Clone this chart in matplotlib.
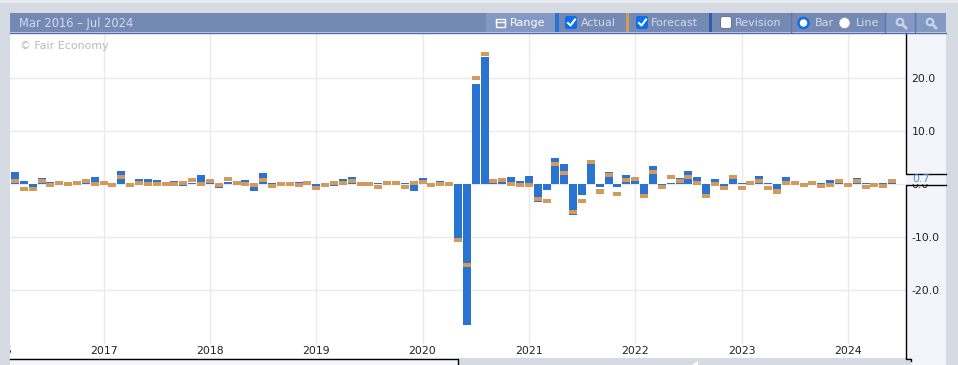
import numpy as np
import matplotlib
matplotlib.use("Agg")
import matplotlib.pyplot as plt
from matplotlib.patches import Rectangle, Circle, FancyBboxPatch, Polygon

# monthly values, Mar 2016 onward
actual = [2.2, 0.5, -0.6, 1.1, 0.3, 0.1, 0.0, 0.1, 0.4, 1.3,
          0.1, -0.1, 2.4, -0.1, 0.9, 0.9, 0.7, 0.0, 0.5, -0.4,
          0.1, 1.7, 0.4, -0.8, 0.3, 0.1, 0.7, -1.3, 2.0, 0.1,
          0.0, 0.0, 0.3, 0.1, -0.4, -0.1, -0.4, 0.9, 1.3, 0.0,
          0.0, 0.1, 0.1, 0.1, 0.1, -1.3, 1.1, -0.1, 0.5, 0.0,
          -10.3, -26.6, 18.8, 23.9, 0.3, 0.4, 1.3, 0.5, 1.5, -3.4,
          -1.2, 4.9, 3.7, -5.9, -2.1, 3.7, -0.6, 2.2, -0.6, 1.7,
          0.6, -2.1, 3.4, -0.2, 0.2, 1.1, 2.4, 1.3, -2.1, 0.9,
          -0.4, 1.0, 0.15, 0.1, 1.5, 0.15, -1.1, 1.3, 0.1, -0.1,
          0.1, 0.15, 0.7, 0.3, -0.1, 1.1, 0.15, -0.1, 0.15, 0.3]
forecast = [0.5, -1.0, -1.0, 0.5, -0.2, 0.15, 0.0, 0.15, 0.5, 0.0,
            0.15, -0.2, 1.3, -0.2, 0.15, 0.0, 0.0, 0.0, 0.0, 0.15,
            0.7, 0.0, 0.5, -0.2, 0.9, 0.15, 0.0, -0.2, 0.7, -0.4,
            0.0, 0.0, -0.2, 0.15, -0.8, -0.2, 0.15, 0.15, 0.5, 0.0,
            0.0, -0.6, 0.15, 0.15, -0.6, 0.15, 0.35, -0.2, 0.0, 0.0,
            -10.6, -15.3, 20.0, 24.5, 0.5, 0.7, 0.0, -0.2, -0.2, -2.9,
            -3.2, 3.7, 2.0, -5.3, -3.2, 4.1, -1.5, 1.7, -1.9, 0.7,
            0.9, -2.3, 2.2, -0.6, 1.3, 0.5, 1.3, 0.15, -2.3, 0.0,
            -0.8, 1.3, -0.8, 0.15, 0.5, -0.8, -1.5, 0.15, 0.15, -0.2,
            0.15, -0.4, -0.2, 0.5, -0.2, 0.5, -0.6, -0.2, -0.4, 0.5]
year_labels = ["2016", "2017", "2018", "2019", "2020", "2021", "2022", "2023", "2024"]
year_start_index = [-1.9, 10, 22, 34, 46, 58, 70, 82, 94]
y_ticks = [-20, -10, 0, 10, 20]
y_tick_labels = ["-20.0", "-10.0", "0.0", "10.0", "20.0"]
date_range = "Mar 2016 – Jul 2024"
latest_value = "0.7"

W, H = 958, 365
BLUE = "#2874d0"
ORANGE = "#d49a5c"
BAR_COL = "#7589b5"
BG = "#d5dae3"
PANEL = "#f3f5fa"
GRID = "#e9e9f2"

fig = plt.figure(figsize=(W / 100, H / 100), dpi=100, facecolor=BG)
plt.rcParams["font.family"] = "DejaVu Sans"

# backdrop in pixel coords
bg = fig.add_axes([0, 0, 1, 1], zorder=0)
bg.set_xlim(0, W)
bg.set_ylim(H, 0)
bg.axis("off")
bg.add_patch(Rectangle((0, 0), W, 3, color="#e8ebf0", lw=0))
bg.add_patch(Rectangle((906, 33), 40, 332, color=PANEL, lw=0))
bg.add_patch(Rectangle((10, 358), 448, 7, color=PANEL, lw=0))
bg.add_patch(Rectangle((458, 358), 453, 7, color=BG, lw=0))

x0, x1, y0, y1 = 10, 906, 33, 358
ax = fig.add_axes([x0 / W, 1 - y1 / H, (x1 - x0) / W, (y1 - y0) / H], zorder=1)

x = np.arange(len(actual))
bar_w = 8 / 8.86
ax.bar(x, actual, width=bar_w, color=BLUE, zorder=3)
ax.bar(x, [0.85] * len(forecast), bottom=np.array(forecast) - 0.425, width=bar_w, color=ORANGE, zorder=4)

ax.set_yticks(y_ticks)
ax.set_yticklabels(y_tick_labels, fontsize=7.8, color="#222222")
ax.yaxis.tick_right()
ax.set_xticks([])
ax.tick_params(axis="y", length=0, pad=4)
ax.grid(True, axis="y", color=GRID, lw=1)
ax.set_axisbelow(True)

# year lines stop above the labels, and 2016 is cut by the plot's left edge
for i, lab in zip(year_start_index, year_labels):
    ax.axvline(i, ymin=15 / 325, color=GRID, lw=1, zorder=1)
    ax.text(i, 7 / 325, lab, transform=ax.get_xaxis_transform(), fontsize=7.8, color="#222222",
            ha="center", va="center", clip_on=True)

unit = 5.3
ax.set_ylim((183.8 - y1) / unit, (183.8 - y0) / unit)
ax.set_xlim((x0 - 15) / 8.86, (x1 - 15) / 8.86)

for s in ax.spines.values():
    s.set_visible(False)

ax.text(20, 46, "© Fair Economy", transform=bg.transData, fontsize=7.9, color="#b9b9b9", va="center", zorder=6)

# top layer: toolbar, axis lines and latest value flag
top = fig.add_axes([0, 0, 1, 1], zorder=2)
top.set_xlim(0, W)
top.set_ylim(H, 0)
top.axis("off")
top.patch.set_alpha(0)

top.add_patch(Rectangle((906, 173.5), 40, 10.5, facecolor=PANEL, lw=0))
top.plot([906, 906, 946], [33, 173.5, 173.5], color="black", lw=1)
top.plot([946, 906, 906, 911, 911], [184.5, 184.5, 358.5, 358.5, 361], color="black", lw=1)
top.plot([10, 458.5, 458.5], [358.5, 358.5, 365], color="black", lw=1)
top.add_patch(Polygon([[692, 365], [698, 361], [698, 365]], color="white", lw=0))
top.text(912, 178.5, latest_value, fontsize=8, color="#4a90e2", va="center")

top.add_patch(Rectangle((10, 13), 936, 19, color=BAR_COL, lw=0))
top.plot([10, 946], [32.5, 32.5], color="#4b6cab", lw=1)
top.add_patch(Rectangle((486, 13), 69, 19, color="#8398c2", lw=0))
top.add_patch(Rectangle((555, 13), 4, 19, color=BLUE, lw=0))
top.add_patch(Rectangle((626, 13), 3, 19, color=ORANGE, lw=0))
top.add_patch(Rectangle((709, 13), 3, 19, color="#2f5ea8", lw=0))
top.add_patch(Rectangle((885, 13), 61, 19, color="#8398c2", lw=0))
for px in [791, 885, 915]:
    top.plot([px, px], [13, 32], color="#5e78ad", lw=1)

txt = "#d3daea"
top.text(19, 23, date_range, fontsize=8.3, color=txt, va="center")
top.text(510, 23, "Range", fontsize=8, color="white", va="center")
top.text(580.5, 23, "Actual", fontsize=8, color=txt, va="center")
top.text(651, 23, "Forecast", fontsize=8, color=txt, va="center")
top.text(734.5, 23, "Revision", fontsize=8, color=txt, va="center")
top.text(815, 23, "Bar", fontsize=8, color=txt, va="center")
top.text(856, 23, "Line", fontsize=8, color=txt, va="center")

# range calendar icon
top.add_patch(Rectangle((496, 19), 9, 8, facecolor="none", edgecolor="white", lw=1))
top.plot([496, 505], [22, 22], color="white", lw=1)

# check boxes
for bx, on in [(565, True), (636, True), (720, False)]:
    top.add_patch(FancyBboxPatch((bx + 1, 17), 10, 11, boxstyle="round,pad=0.5,rounding_size=2",
                                 facecolor="#0a6fe8" if on else "white",
                                 edgecolor="#0a6fe8" if on else "#777777", lw=0.8))
    if on:
        top.plot([bx + 3, bx + 5.5, bx + 10], [23, 25.5, 19.5], color="white", lw=1.5)

# radios
top.add_patch(Circle((803.5, 23), 5, facecolor="white", edgecolor="#0a6fe8", lw=1.8))
top.add_patch(Circle((844.5, 23), 5.5, facecolor="white", edgecolor="#999999", lw=0.6))

# zoom icons
for cx in [900, 930]:
    top.add_patch(Circle((cx, 22), 3.3, facecolor="none", edgecolor="#c9d3e8", lw=1.6))
    top.plot([cx + 2.5, cx + 6], [24.5, 28], color="#c9d3e8", lw=2)

fig.savefig("out.png", dpi=100, facecolor=fig.get_facecolor())
